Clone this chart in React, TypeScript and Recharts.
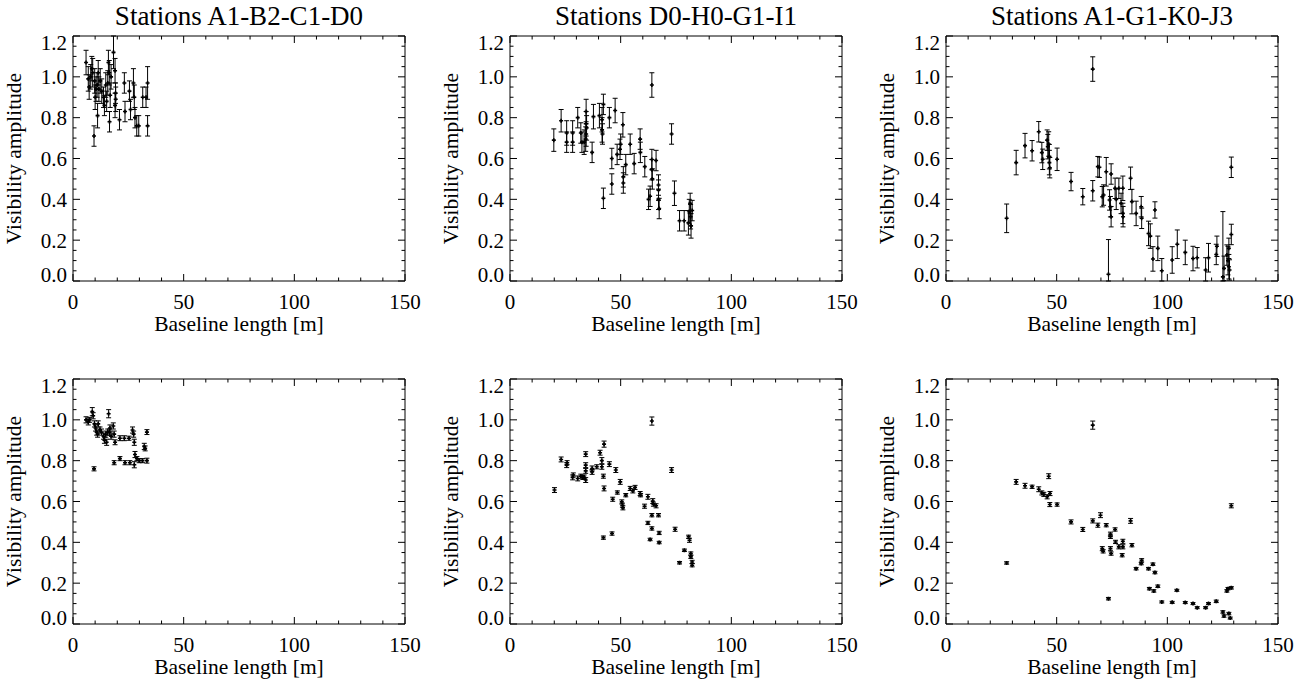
import React from "react";
import { ScatterChart, Scatter, XAxis, YAxis, ErrorBar } from "recharts";

// [baseline (m), visibility amplitude, 1-sigma error]
type Pt = [number, number, number];

const titles = ["Stations A1-B2-C1-D0", "Stations D0-H0-G1-I1", "Stations A1-G1-K0-J3"];
const xTitle = "Baseline length [m]";
const yTitle = "Visibility amplitude";

const xTicks = [0, 10, 20, 30, 40, 50, 60, 70, 80, 90, 100, 110, 120, 130, 140, 150];
const yTicks = [
  0, 0.05, 0.1, 0.15, 0.2, 0.25, 0.3, 0.35, 0.4, 0.45, 0.5, 0.55, 0.6,
  0.65, 0.7, 0.75, 0.8, 0.85, 0.9, 0.95, 1.0, 1.05, 1.1, 1.15, 1.2,
];

// A1-B2-C1-D0, upper row
const abcdUpper: Pt[] = [
  [5.9, 1.07, 0.06], [6.9, 0.99, 0.06], [7.3, 0.95, 0.06], [8.0, 1.0, 0.06],
  [8.5, 1.04, 0.06], [8.9, 1.02, 0.07], [9.5, 0.71, 0.05], [9.8, 0.98, 0.06],
  [10.0, 0.9, 0.06], [10.4, 0.94, 0.06], [10.9, 0.96, 0.06], [11.1, 0.81, 0.06],
  [11.4, 1.02, 0.06], [11.7, 0.94, 0.06], [12.3, 0.98, 0.06], [13.0, 0.93, 0.06],
  [13.8, 0.9, 0.05], [14.2, 0.86, 0.05], [14.8, 0.96, 0.06], [15.2, 0.88, 0.05],
  [15.7, 0.97, 0.06], [16.0, 1.07, 0.06], [16.4, 1.02, 0.06], [16.5, 0.78, 0.05],
  [16.8, 0.91, 0.06], [17.2, 1.0, 0.06], [18.3, 1.12, 0.08], [19.0, 1.03, 0.06],
  [19.0, 0.86, 0.06], [19.3, 0.89, 0.06], [19.2, 0.92, 0.05], [21.0, 0.79, 0.05],
  [23.2, 0.97, 0.05], [23.5, 0.83, 0.05], [25.5, 0.93, 0.05], [26.0, 0.84, 0.05],
  [27.3, 0.97, 0.07], [27.7, 0.9, 0.06], [28.0, 0.8, 0.05], [28.8, 0.76, 0.05],
  [29.7, 0.76, 0.05], [31.5, 0.9, 0.05], [33.0, 0.9, 0.05], [33.7, 0.97, 0.08],
  [33.7, 0.76, 0.05],
];

// A1-B2-C1-D0, lower row
const abcdLower: Pt[] = [
  [5.9, 1.0, 0.015], [6.9, 0.99, 0.015], [7.5, 1.0, 0.012], [8.7, 1.04, 0.02],
  [9.1, 1.02, 0.015], [9.5, 0.76, 0.01], [9.7, 0.98, 0.015], [10.2, 0.96, 0.015],
  [10.7, 0.94, 0.015], [11.1, 0.93, 0.015], [11.4, 0.98, 0.015], [12.2, 0.95, 0.015],
  [12.9, 0.94, 0.015], [13.8, 0.92, 0.015], [14.2, 0.9, 0.015], [14.8, 0.93, 0.015],
  [15.2, 0.89, 0.015], [15.7, 0.94, 0.015], [16.1, 1.03, 0.02], [16.5, 0.94, 0.015],
  [16.7, 0.96, 0.015], [17.2, 0.92, 0.015], [18.2, 0.97, 0.015], [18.6, 0.93, 0.015],
  [19.0, 0.89, 0.012], [18.6, 0.79, 0.01], [21.2, 0.91, 0.012], [21.2, 0.81, 0.01],
  [23.2, 0.91, 0.012], [23.5, 0.79, 0.01], [25.3, 0.91, 0.01], [25.7, 0.79, 0.01],
  [26.9, 0.95, 0.015], [27.4, 0.93, 0.015], [27.7, 0.89, 0.015], [27.7, 0.78, 0.015],
  [28.0, 0.83, 0.015], [28.9, 0.81, 0.01], [29.9, 0.8, 0.01], [31.4, 0.8, 0.01],
  [32.2, 0.87, 0.015], [32.6, 0.86, 0.012], [33.4, 0.94, 0.012], [33.4, 0.8, 0.012],
];

// D0-H0-G1-I1, upper row
const dhgiUpper: Pt[] = [
  [19.8, 0.69, 0.055], [23.1, 0.785, 0.055], [25.6, 0.725, 0.06], [25.6, 0.68, 0.05],
  [28.3, 0.725, 0.06], [28.3, 0.68, 0.05], [30.6, 0.8, 0.05], [32.0, 0.725, 0.05],
  [32.5, 0.68, 0.05], [33.5, 0.68, 0.06], [34.4, 0.83, 0.06], [34.4, 0.77, 0.06],
  [34.6, 0.75, 0.06], [34.4, 0.72, 0.06], [34.2, 0.695, 0.06], [37.1, 0.63, 0.05],
  [37.7, 0.805, 0.06], [40.4, 0.81, 0.06], [41.6, 0.79, 0.06], [41.6, 0.74, 0.06],
  [41.8, 0.72, 0.05], [42.2, 0.865, 0.05], [42.2, 0.405, 0.05], [44.9, 0.8, 0.05],
  [46.0, 0.6, 0.05], [46.0, 0.475, 0.05], [47.5, 0.835, 0.06], [48.4, 0.62, 0.05],
  [49.7, 0.645, 0.05], [50.0, 0.67, 0.05], [51.0, 0.765, 0.06], [51.2, 0.51, 0.05],
  [51.2, 0.48, 0.05], [52.3, 0.57, 0.05], [54.3, 0.67, 0.05], [56.1, 0.575, 0.05],
  [58.8, 0.695, 0.05], [58.9, 0.63, 0.05], [60.9, 0.56, 0.05], [62.6, 0.4, 0.05],
  [63.3, 0.415, 0.05], [64.1, 0.96, 0.06], [64.1, 0.595, 0.05], [64.1, 0.545, 0.05],
  [64.3, 0.5, 0.05], [66.0, 0.59, 0.05], [67.1, 0.47, 0.05], [67.1, 0.445, 0.05],
  [67.1, 0.4, 0.05], [67.4, 0.355, 0.05], [73.0, 0.72, 0.05], [74.3, 0.43, 0.06],
  [76.6, 0.295, 0.05], [78.7, 0.295, 0.05], [80.6, 0.285, 0.06], [81.0, 0.34, 0.06],
  [81.4, 0.38, 0.05], [81.6, 0.315, 0.06], [81.8, 0.27, 0.06], [82.3, 0.345, 0.05],
];

// D0-H0-G1-I1, lower row
const dhgiLower: Pt[] = [
  [20.1, 0.656, 0.012], [23.1, 0.806, 0.012], [25.6, 0.778, 0.012], [25.8, 0.79, 0.01],
  [28.3, 0.718, 0.012], [28.6, 0.73, 0.01], [30.6, 0.713, 0.012], [32.0, 0.724, 0.01],
  [32.9, 0.718, 0.01], [34.2, 0.832, 0.012], [34.2, 0.778, 0.012], [34.2, 0.75, 0.012],
  [34.2, 0.705, 0.012], [33.5, 0.72, 0.01], [37.1, 0.762, 0.012], [37.1, 0.745, 0.012],
  [39.2, 0.77, 0.01], [40.7, 0.839, 0.012], [41.5, 0.8, 0.015], [41.5, 0.77, 0.012],
  [42.2, 0.724, 0.01], [42.5, 0.881, 0.015], [42.5, 0.664, 0.012], [42.2, 0.423, 0.008],
  [44.9, 0.783, 0.012], [46.1, 0.443, 0.008], [46.4, 0.611, 0.01], [47.8, 0.754, 0.012],
  [48.5, 0.644, 0.008], [49.8, 0.696, 0.012], [50.5, 0.598, 0.01], [50.8, 0.582, 0.01],
  [51.0, 0.569, 0.01], [52.3, 0.631, 0.008], [54.3, 0.664, 0.01], [55.5, 0.652, 0.01],
  [56.5, 0.669, 0.01], [58.8, 0.639, 0.01], [59.0, 0.631, 0.008], [60.8, 0.577, 0.01],
  [62.3, 0.623, 0.012], [62.3, 0.495, 0.008], [63.3, 0.414, 0.006], [64.1, 0.468, 0.008],
  [64.1, 0.533, 0.008], [64.1, 0.994, 0.02], [64.5, 0.602, 0.012], [64.8, 0.587, 0.01],
  [66.0, 0.579, 0.01], [67.1, 0.533, 0.008], [67.4, 0.446, 0.008], [67.4, 0.399, 0.006],
  [73.0, 0.754, 0.012], [74.6, 0.464, 0.01], [76.6, 0.3, 0.006], [78.8, 0.361, 0.006],
  [80.7, 0.427, 0.008], [81.1, 0.41, 0.01], [81.7, 0.345, 0.008], [81.7, 0.329, 0.008],
  [82.3, 0.304, 0.008], [82.3, 0.288, 0.008],
];

// A1-G1-K0-J3, upper row
const agkjUpper: Pt[] = [
  [27.4, 0.307, 0.07], [31.7, 0.58, 0.06], [35.7, 0.663, 0.06], [38.9, 0.638, 0.05],
  [41.9, 0.731, 0.05], [43.3, 0.629, 0.05], [43.7, 0.596, 0.05], [45.7, 0.69, 0.05],
  [46.0, 0.658, 0.06], [46.4, 0.671, 0.06], [46.7, 0.609, 0.06], [46.7, 0.58, 0.06],
  [46.9, 0.555, 0.05], [50.2, 0.596, 0.055], [56.5, 0.487, 0.045], [61.8, 0.413, 0.04],
  [66.3, 1.038, 0.06], [66.3, 0.442, 0.05], [68.6, 0.56, 0.05], [69.3, 0.557, 0.05],
  [70.6, 0.413, 0.05], [71.2, 0.421, 0.05], [72.4, 0.535, 0.07], [73.4, 0.033, 0.17],
  [73.9, 0.397, 0.05], [74.3, 0.364, 0.05], [74.6, 0.315, 0.05], [74.6, 0.524, 0.05],
  [76.4, 0.454, 0.05], [76.9, 0.4, 0.05], [78.1, 0.454, 0.05], [79.1, 0.38, 0.05],
  [79.9, 0.454, 0.06], [79.9, 0.331, 0.05], [80.0, 0.315, 0.05], [83.4, 0.503, 0.055],
  [84.0, 0.389, 0.06], [85.9, 0.331, 0.06], [88.2, 0.364, 0.05], [88.4, 0.307, 0.05],
  [91.5, 0.233, 0.06], [92.3, 0.22, 0.06], [93.5, 0.108, 0.06], [94.4, 0.348, 0.04],
  [95.7, 0.16, 0.06], [97.5, 0.05, 0.06], [102.2, 0.103, 0.065], [104.5, 0.18, 0.07],
  [108.1, 0.14, 0.06], [111.6, 0.11, 0.06], [113.5, 0.114, 0.05], [117.3, 0.054, 0.06],
  [118.6, 0.114, 0.07], [122.1, 0.13, 0.05], [122.4, 0.17, 0.05], [125.1, 0.02, 0.32],
  [125.6, 0.062, 0.06], [126.9, 0.127, 0.05], [127.4, 0.1, 0.07], [127.8, 0.07, 0.06],
  [127.8, 0.16, 0.05], [128.1, 0.054, 0.05], [128.9, 0.228, 0.05], [128.9, 0.557, 0.05],
];

// A1-G1-K0-J3, lower row
const agkjLower: Pt[] = [
  [27.4, 0.299, 0.006], [31.7, 0.696, 0.012], [35.7, 0.677, 0.012], [38.9, 0.672, 0.008],
  [41.9, 0.66, 0.012], [43.3, 0.642, 0.01], [44.2, 0.635, 0.01], [45.7, 0.623, 0.01],
  [46.4, 0.724, 0.012], [47.0, 0.639, 0.01], [46.9, 0.585, 0.01], [50.2, 0.585, 0.008],
  [56.5, 0.5, 0.01], [61.8, 0.463, 0.01], [66.3, 0.974, 0.02], [66.3, 0.505, 0.01],
  [68.6, 0.484, 0.01], [69.8, 0.533, 0.012], [70.6, 0.369, 0.01], [71.0, 0.356, 0.008],
  [72.4, 0.484, 0.008], [73.4, 0.124, 0.006], [74.3, 0.427, 0.008], [74.3, 0.44, 0.01],
  [74.3, 0.369, 0.01], [74.6, 0.345, 0.008], [76.4, 0.463, 0.008], [76.6, 0.402, 0.008],
  [78.1, 0.378, 0.01], [79.6, 0.337, 0.008], [79.9, 0.405, 0.01], [79.9, 0.378, 0.01],
  [83.4, 0.505, 0.012], [84.0, 0.386, 0.008], [85.9, 0.271, 0.006], [88.2, 0.296, 0.006],
  [88.4, 0.312, 0.008], [91.5, 0.271, 0.006], [91.9, 0.173, 0.006], [93.5, 0.293, 0.006],
  [93.9, 0.162, 0.006], [94.4, 0.252, 0.006], [95.7, 0.185, 0.006], [97.5, 0.108, 0.005],
  [102.2, 0.106, 0.005], [104.3, 0.165, 0.005], [108.1, 0.105, 0.005], [111.6, 0.1, 0.005],
  [113.5, 0.08, 0.005], [117.3, 0.08, 0.005], [118.6, 0.1, 0.005], [122.1, 0.111, 0.006],
  [125.1, 0.059, 0.006], [125.6, 0.039, 0.006], [126.9, 0.162, 0.006], [127.4, 0.173, 0.006],
  [127.8, 0.051, 0.006], [128.4, 0.029, 0.005], [128.9, 0.177, 0.006], [128.9, 0.579, 0.01],
];

const columns = [
  { title: titles[0], upper: abcdUpper, lower: abcdLower },
  { title: titles[1], upper: dhgiUpper, lower: dhgiLower },
  { title: titles[2], upper: agkjUpper, lower: agkjLower },
];

const FONT = "'Liberation Serif', 'DejaVu Serif', serif";
const COL_X = [0, 437, 873];
const ROW_Y = [0, 343];
const W = 437;
const H = 343;
const PLOT_L = 73;
const PLOT_T = 36;
const PLOT_W = 332;
const PLOT_H = 245;
const MAJOR = 7;
const MINOR = 3.5;
const Y_MAX = 1.2;

const isMajor = (v: number, step: number) => Math.abs(v / step - Math.round(v / step)) < 1e-6;

function BottomTick(props: any) {
  const { x, y, payload } = props;
  const major = isMajor(payload.value, 50);
  return (
    <g>
      <line x1={x} y1={y} x2={x} y2={y - (major ? MAJOR : MINOR)} stroke="#000" strokeWidth={1} />
      {major && (
        <text x={x} y={y + 28} textAnchor="middle" fontSize={21} fontFamily={FONT} fill="#000">
          {payload.value}
        </text>
      )}
    </g>
  );
}

function TopTick(props: any) {
  const { x, y, payload } = props;
  const major = isMajor(payload.value, 50);
  return <line x1={x} y1={y} x2={x} y2={y + (major ? MAJOR : MINOR)} stroke="#000" strokeWidth={1} />;
}

function LeftTick(props: any) {
  const { x, y, payload } = props;
  const v = payload.value as number;
  const major = isMajor(v, 0.2);
  // end labels are pulled inside the frame, as in the original
  const shift = v > 1.19 ? 7 : v < 0.01 ? -6 : 0;
  return (
    <g>
      <line x1={x} y1={y} x2={x + (major ? MAJOR : MINOR)} y2={y} stroke="#000" strokeWidth={1} />
      {major && (
        <text x={x - 6} y={y + shift} dy="0.35em" textAnchor="end" fontSize={21} fontFamily={FONT} fill="#000">
          {v.toFixed(1)}
        </text>
      )}
    </g>
  );
}

function RightTick(props: any) {
  const { x, y, payload } = props;
  const major = isMajor(payload.value, 0.2);
  return <line x1={x} y1={y} x2={x - (major ? MAJOR : MINOR)} y2={y} stroke="#000" strokeWidth={1} />;
}

function PlusMark(props: any) {
  const { cx, cy } = props;
  if (cx == null || cy == null) return <g />;
  return (
    <path d={`M${cx - 2},${cy}H${cx + 2}M${cx},${cy - 2}V${cy + 2}`} stroke="#000" strokeWidth={1.6} fill="none" />
  );
}

function Panel({ data }: { data: Pt[] }) {
  // error bars are cut at the frame: [below, above]
  const rows = data.map(([x, y, err]) => ({
    x,
    y,
    err: [Math.min(err, y), Math.min(err, Y_MAX - y)],
  }));
  return (
    <ScatterChart width={W} height={H} margin={{ top: PLOT_T - 1, right: W - PLOT_L - PLOT_W - 1, bottom: 0, left: 0 }}>
      <XAxis
        xAxisId="b"
        dataKey="x"
        type="number"
        domain={[0, 150]}
        ticks={xTicks}
        interval={0}
        allowDataOverflow
        height={H - PLOT_T - PLOT_H}
        tickSize={0}
        tickMargin={0}
        tickLine={false}
        axisLine={{ stroke: "#000", strokeWidth: 1 }}
        tick={(p: any) => <BottomTick {...p} />}
      />
      <XAxis
        xAxisId="t"
        dataKey="x"
        orientation="top"
        type="number"
        domain={[0, 150]}
        ticks={xTicks}
        interval={0}
        allowDataOverflow
        height={1}
        tickSize={0}
        tickMargin={0}
        tickLine={false}
        axisLine={{ stroke: "#000", strokeWidth: 1 }}
        tick={(p: any) => <TopTick {...p} />}
      />
      <YAxis
        yAxisId="l"
        dataKey="y"
        type="number"
        domain={[0, Y_MAX]}
        ticks={yTicks}
        interval={0}
        allowDataOverflow
        width={PLOT_L}
        tickSize={0}
        tickMargin={0}
        tickLine={false}
        axisLine={{ stroke: "#000", strokeWidth: 1 }}
        tick={(p: any) => <LeftTick {...p} />}
      />
      <YAxis
        yAxisId="r"
        dataKey="y"
        orientation="right"
        type="number"
        domain={[0, Y_MAX]}
        ticks={yTicks}
        interval={0}
        allowDataOverflow
        width={1}
        tickSize={0}
        tickMargin={0}
        tickLine={false}
        axisLine={{ stroke: "#000", strokeWidth: 1 }}
        tick={(p: any) => <RightTick {...p} />}
      />
      <Scatter data={rows} xAxisId="b" yAxisId="l" shape={(p: any) => <PlusMark {...p} />} isAnimationActive={false}>
        <ErrorBar dataKey="err" direction="y" width={2.5} stroke="#000" strokeWidth={1} isAnimationActive={false} />
      </Scatter>
      {/* invisible twin so the mirrored frame axes get a data binding */}
      <Scatter data={rows} xAxisId="t" yAxisId="r" shape={() => <g />} isAnimationActive={false} />
    </ScatterChart>
  );
}

export default function App() {
  return (
    <div style={{ position: "absolute", left: 0, top: 0, width: 1316, height: 683, background: "#fff" }}>
      {columns.map((col, ci) =>
        [col.upper, col.lower].map((d, ri) => (
          <div key={`${ci}-${ri}`} style={{ position: "absolute", left: COL_X[ci], top: ROW_Y[ri], width: W, height: H }}>
            <Panel data={d} />
          </div>
        ))
      )}
      <svg width={1316} height={683} style={{ position: "absolute", left: 0, top: 0, pointerEvents: "none" }}>
        {columns.map((col, ci) => {
          const cx = COL_X[ci] + PLOT_L + PLOT_W / 2;
          return (
            <g key={ci} fontFamily={FONT} fill="#000">
              <text x={cx} y={25} textAnchor="middle" fontSize={27}>{col.title}</text>
              {ROW_Y.map((ry, ri) => (
                <g key={ri}>
                  <text x={cx} y={ry + PLOT_T + PLOT_H + 50} textAnchor="middle" fontSize={21.5}>{xTitle}</text>
                  <text
                    transform={`translate(${COL_X[ci] + 21}, ${ry + PLOT_T + PLOT_H / 2}) rotate(-90)`}
                    textAnchor="middle"
                    fontSize={21.5}
                  >
                    {yTitle}
                  </text>
                </g>
              ))}
            </g>
          );
        })}
      </svg>
    </div>
  );
}
